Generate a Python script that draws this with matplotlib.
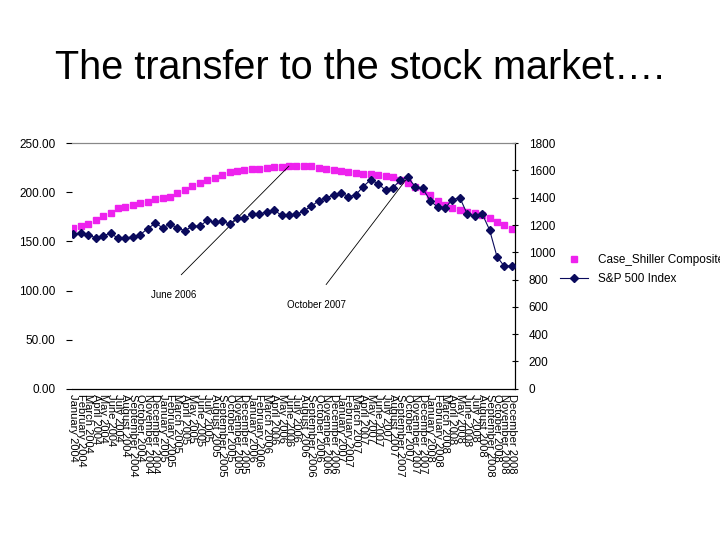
import matplotlib
matplotlib.use("Agg")
import matplotlib.pyplot as plt
from matplotlib.lines import Line2D

plt.rcParams['font.family'] = ['Liberation Sans', 'DejaVu Sans']

month_names = ["January", "February", "March", "April", "May", "June", "July",
               "August", "September", "October", "November", "December"]
years = [2004, 2005, 2006, 2007, 2008]
months = [f"{m} {y}" for y in years for m in month_names]

case_shiller = [163.3, 165.6, 168.0, 172.1, 175.5, 179.2, 183.6, 185.3, 187.0, 189.4, 190.4, 192.8,
                193.8, 195.4, 199.5, 202.7, 206.6, 209.0, 212.4, 214.8, 217.5, 220.2, 221.5, 222.6,
                223.3, 223.6, 224.3, 225.3, 225.9, 226.6, 226.6, 226.6, 226.7, 225.0, 223.6, 222.6,
                221.6, 220.5, 219.5, 218.8, 218.5, 217.8, 216.8, 215.0, 212.8, 209.7, 205.6, 201.6,
                196.8, 190.7, 186.7, 184.3, 181.6, 180.2, 178.9, 176.8, 173.4, 170.0, 166.3, 162.2]

sp500 = [1131, 1145, 1126, 1107, 1121, 1141, 1102, 1104, 1115, 1130, 1174, 1212,
         1181, 1204, 1181, 1157, 1192, 1191, 1234, 1220, 1229, 1207, 1249, 1248,
         1280, 1281, 1295, 1311, 1270, 1270, 1277, 1304, 1336, 1378, 1401, 1418,
         1438, 1407, 1421, 1482, 1531, 1503, 1455, 1474, 1527, 1549, 1481, 1468,
         1379, 1331, 1323, 1386, 1400, 1280, 1267, 1283, 1165, 969, 896, 903]

x = list(range(len(months)))
pink = '#ee22ee'
navy = '#0a0a5c'

fig = plt.figure(figsize=(7.2, 5.4), dpi=100)
fig.text(0.5, 1 - 68 / 540, "The transfer to the stock market….", ha='center', va='center', fontsize=28.5)

ax = fig.add_axes([0.1, 0.28, 0.615, 0.455])
ax2 = ax.twinx()

ax.plot(x, case_shiller, linestyle='none', marker='s', markersize=5, color=pink, zorder=3)
ax2.plot(x, sp500, color=navy, lw=0.8, marker='D', markersize=4, zorder=3)

ax.set_xlim(-0.2, 59.4)
ax.set_ylim(0, 250)
ax2.set_ylim(0, 1800)
ax.set_yticks([0, 50, 100, 150, 200, 250])
ax.set_yticklabels([f"{v:.2f}" for v in [0, 50, 100, 150, 200, 250]], fontsize=8.5)
ax2.set_yticks(range(0, 1801, 200))
ax2.set_yticklabels([str(v) for v in range(0, 1801, 200)], fontsize=8.5)
ax.set_xticks(x)
ax.set_xticklabels(months, rotation=270, fontsize=8, ha='center', va='top')
ax.tick_params(axis='x', length=0, pad=4)
ax.tick_params(axis='y', length=4, width=0.8, pad=8)
ax2.tick_params(axis='y', length=4, width=0.8, direction='inout', pad=8)

for a in (ax, ax2):
    a.spines['left'].set_visible(False)
    a.spines['top'].set_color('#888888')
    a.spines['bottom'].set_color('black')
    a.spines['right'].set_color('black')

# annotations
ax.annotate('', xy=(29, case_shiller[29]), xytext=(14.5, 116),
            arrowprops=dict(arrowstyle='-', lw=0.6, color='black', shrinkA=0, shrinkB=0))
ax.text(13.5, 95, "June 2006", fontsize=7, ha='center', va='center')
ax.annotate('', xy=(45, sp500[45]), xycoords=ax2.transData, xytext=(34, 106),
            textcoords=ax.transData,
            arrowprops=dict(arrowstyle='-', lw=0.6, color='black', shrinkA=0, shrinkB=0))
ax.text(32.7, 85, "October 2007", fontsize=7, ha='center', va='center')

handles = [Line2D([], [], linestyle='none', marker='s', markersize=5, color=pink),
           Line2D([], [], color=navy, lw=0.8, marker='D', markersize=4)]
fig.legend(handles, ["Case_Shiller Composite", "S&P 500 Index"], loc='upper left',
           bbox_to_anchor=(555 / 720, 1 - 249 / 540), frameon=False, fontsize=8.5,
           handlelength=2.4, labelspacing=0.6, borderaxespad=0)

fig.savefig("out.png", dpi=100)
